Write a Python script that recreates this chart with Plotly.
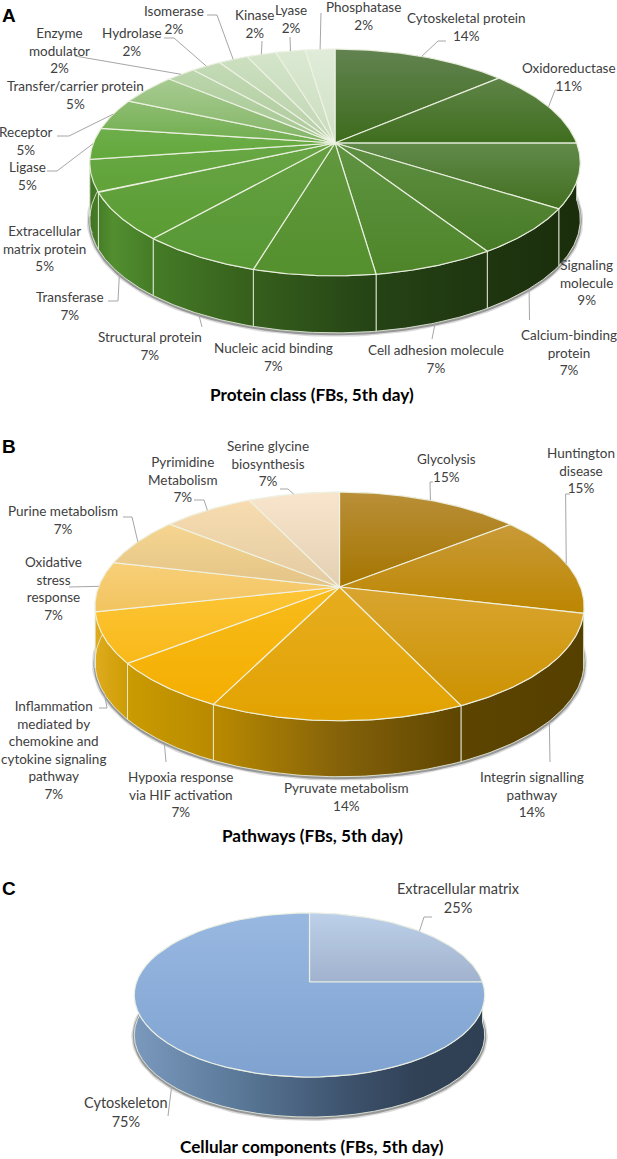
import numpy as np
import plotly.graph_objects as go

# Panel A, shares are the unrounded values behind the printed percentages
a_labels = ["Cytoskeletal protein", "Oxidoreductase", "Signaling<br>molecule", "Calcium-binding<br>protein",
            "Cell adhesion molecule", "Nucleic acid binding", "Structural protein", "Transferase",
            "Extracellular<br>matrix protein", "Ligase", "Receptor", "Transfer/carrier protein",
            "Enzyme<br>modulator", "Hydrolase", "Isomerase", "Kinase", "Lyase", "Phosphatase"]
a_percent = [14, 11, 9, 7, 7, 7, 7, 7, 5, 5, 5, 5, 2, 2, 2, 2, 2, 2]
a_values = [13.6, 11.4, 9.1, 6.8, 6.8, 6.8, 6.8, 6.8, 4.5, 4.5, 4.5, 4.5, 2.3, 2.3, 2.3, 2.3, 2.3, 2.3]

# Panel B
b_labels = ["Glycolysis", "Huntington<br>disease", "Integrin signalling<br>pathway", "Pyruvate metabolism",
            "Hypoxia response<br>via HIF activation",
            "Inflammation<br>mediated by<br>chemokine and<br>cytokine signaling<br>pathway",
            "Oxidative<br>stress<br>response", "Purine metabolism", "Pyrimidine<br>Metabolism",
            "Serine glycine<br>biosynthesis"]
b_percent = [15, 15, 14, 14, 7, 7, 7, 7, 7, 7]
b_values = [14.3, 14.3, 14.3, 14.3, 7.1, 7.1, 7.1, 7.1, 7.1, 7.1]

# Panel C
c_labels = ["Extracellular matrix", "Cytoskeleton"]
c_percent = [25, 75]
c_values = [25, 75]

# top face colours, upper and lower end of each slice's gradient
a_upper = ["#628350", "#5f8448", "#618a4a", "#5f9043", "#5f9342", "#62983f", "#66a042", "#68a546", "#68a846",
           "#6eae4c", "#8ebd72", "#a6cb90", "#bcd6ad", "#c4dbb6", "#cce0c0", "#d4e5ca", "#dbe9d2", "#e0ecd9"]
a_lower = ["#3d6b1c", "#3f6e1e", "#426f20", "#477a25", "#4e8529", "#54902d", "#569733", "#5a9c32", "#60a338",
           "#62a83a", "#70ad4e", "#83b566", "#a3c68f", "#acc99a", "#b6cfa7", "#c0d6b3", "#c9dcbd", "#d0e0c5"]
b_upper = ["#b98f38", "#c99a38", "#d9a530", "#e6ad20", "#f8bc1c", "#fdc637", "#f8cf78", "#f6d58f", "#f8dcb0",
           "#f9e5cc"]
b_lower = ["#a57500", "#bc8600", "#cc9200", "#e2a200", "#f4ae00", "#f8b818", "#f2c460", "#e3c488", "#e3cba2",
           "#e3d0b2"]
c_upper = ["#bdd0e9", "#98b8e1"]
c_lower = ["#a0b2cd", "#7fa2d0"]

a_wall = [[0, "#3f7222"], [0.05, "#528f30"], [0.13, "#457c27"], [0.33, "#365f1c"], [0.58, "#254315"],
          [0.8, "#1f3610"], [1, "#1a2d0c"]]
b_wall = [[0, "#e0ac20"], [0.08, "#c99a00"], [0.25, "#b88900"], [0.5, "#85620a"], [0.76, "#5c4400"], [1, "#564000"]]
c_wall = [[0, "#7a99bd"], [0.3, "#5a7898"], [0.6, "#3e536e"], [0.8, "#314257"], [1, "#2f4054"]]

# projection of each pie: apex x/y, half width a, half height b, perspective k, wall depth h
a_geom = dict(x0=335, y0=143, a=241.6, b=110, k=0.172, h=57)
b_geom = dict(x0=339.5, y0=587, a=241, b=111, k=0.170, h=56)
c_geom = dict(x0=309.5, y0=982, a=173, b=80, k=0.1586, h=40)

# label centres
a_label_xy = [(466, 27), (569, 77), (586, 282), (569, 352), (436, 359), (273, 357), (150, 346), (70, 306), (44, 248),
              (27, 176), (26, 141), (75, 95), (59, 50), (132, 42), (174, 20), (254, 24), (291, 19), (363, 16)]
b_label_xy = [(446, 468), (581, 470), (532, 794), (346, 797), (181, 794), (53, 750), (53, 588), (63, 520), (183, 479),
              (268, 463)]
c_label_xy = [(458, 898), (126, 1112)]

# leader line bends, going from the pie out to the label
a_elbows = [[(438, 41), (446, 41)], [(555, 90), (560, 90)], None, [(529.5, 320)], [(432, 339)], None, [(202, 327)],
            [(118, 301), (108, 301)], [(93, 232)], [(57, 171), (47, 171)], [(69, 136), (57, 136)], None,
            [(75, 56)], [(174, 38), (164, 38)], [(217, 15), (207, 15)], [(262, 41)], [(290, 37)], [(321, 13)]]
b_elbows = [[(430, 482), (433, 482)], [(565.6, 494), (570, 494)], [(550, 762)], None, [(166, 762)],
            [(107, 708), (99, 708)], [(69, 587)], [(132, 517), (123, 517)], [(204, 500), (194, 500)],
            [(288, 489), (280, 489)]]
c_elbows = [[(424, 917), (432, 917)], [(168, 1116)]]


def rim(theta, g, depth=0):
    # theta clockwise from 12 o'clock, disc seen in perspective
    u, v = np.sin(theta), np.cos(theta)
    w = 1 + g["k"] * v
    return g["x0"] + g["a"] * u / w, g["y0"] - g["b"] * v / w + depth


def draw_pie(fig, values, upper, lower, labels, percent, label_xy, elbows, g, wall, font_size=13.5):
    edges = 2 * np.pi * np.cumsum([0] + list(values)) / sum(values)
    left, right = g["x0"] - g["a"] * 1.02, g["x0"] + g["a"] * 1.02

    # soft shadow under the front of the pie
    t = np.linspace(np.pi * 0.45, np.pi * 1.55, 120)
    sx, sy = rim(t, g, g["h"] + 1)
    fig.add_trace(go.Scatter(x=sx, y=sy, mode="lines", line=dict(color="rgba(50,50,50,0.18)", width=6),
                             hoverinfo="skip", showlegend=False))
    fig.add_trace(go.Scatter(x=sx, y=sy, mode="lines", line=dict(color="rgba(50,50,50,0.4)", width=3),
                             hoverinfo="skip", showlegend=False))

    # side walls
    for i in range(len(values)):
        t = np.linspace(edges[i], edges[i + 1], 50)
        x1, y1 = rim(t, g)
        x2, y2 = rim(t[::-1], g, g["h"])
        fig.add_trace(go.Scatter(x=np.r_[x1, x2, x1[0]], y=np.r_[y1, y2, y1[0]], mode="lines", fill="toself",
                                 line=dict(color="rgba(232,238,222,0.85)", width=1),
                                 fillgradient=dict(type="horizontal", colorscale=wall, start=left, stop=right),
                                 hoverinfo="skip", showlegend=False))

    # top face
    for i in range(len(values)):
        t = np.linspace(edges[i], edges[i + 1], 60)
        x1, y1 = rim(t, g)
        x = np.r_[g["x0"], x1, g["x0"]]
        y = np.r_[g["y0"], y1, g["y0"]]
        fig.add_trace(go.Scatter(x=x, y=y, mode="lines", fill="toself",
                                 line=dict(color="rgba(240,243,230,0.9)", width=1.2),
                                 fillgradient=dict(type="vertical", start=y.min(), stop=y.max(),
                                                   colorscale=[[0, upper[i]], [1, lower[i]]]),
                                 hoverinfo="skip", showlegend=False))

    # leader lines and labels
    for i in range(len(values)):
        mid = (edges[i] + edges[i + 1]) / 2
        if elbows[i]:
            depth = g["h"] if np.cos(mid) < -0.05 else 0
            px, py = rim(mid, g, depth)
            bends = elbows[i]
            fig.add_trace(go.Scatter(x=[px] + [p[0] for p in bends], y=[py] + [p[1] for p in bends], mode="lines",
                                     line=dict(color="#a6a6a6", width=1), hoverinfo="skip", showlegend=False))
        fig.add_annotation(x=label_xy[i][0], y=label_xy[i][1], text="%s<br>%d%%" % (labels[i], percent[i]),
                           showarrow=False, xanchor="center", yanchor="middle", align="center",
                           font=dict(family="Lato", size=font_size, color="#404040"))


fig = go.Figure()
draw_pie(fig, a_values, a_upper, a_lower, a_labels, a_percent, a_label_xy, a_elbows, a_geom, a_wall)
draw_pie(fig, b_values, b_upper, b_lower, b_labels, b_percent, b_label_xy, b_elbows, b_geom, b_wall)
draw_pie(fig, c_values, c_upper, c_lower, c_labels, c_percent, c_label_xy, c_elbows, c_geom, c_wall, font_size=14.5)

for text, y in [("Protein class (FBs, 5th day)", 394), ("Pathways (FBs, 5th day)", 835),
                ("Cellular components (FBs, 5th day)", 1146)]:
    fig.add_annotation(x=312, y=y, text="<b>%s</b>" % text, showarrow=False, xanchor="center", yanchor="middle",
                       font=dict(family="Lato", size=17.2, color="#000000"))
for text, y in [("A", 15), ("B", 446), ("C", 888)]:
    fig.add_annotation(x=0, y=y, text="<b>%s</b>" % text, showarrow=False, xanchor="left", yanchor="middle",
                       font=dict(family="Liberation Sans", size=19, color="#000000"))

fig.update_xaxes(range=[0, 617], visible=False, fixedrange=True)
fig.update_yaxes(range=[1159, 0], visible=False, fixedrange=True)
fig.update_layout(width=617, height=1159, margin=dict(l=0, r=0, t=0, b=0), plot_bgcolor="white",
                  paper_bgcolor="white", showlegend=False)
fig.write_html("out.html", config=dict(displayModeBar=False), post_script="document.body.style.margin='0';")
